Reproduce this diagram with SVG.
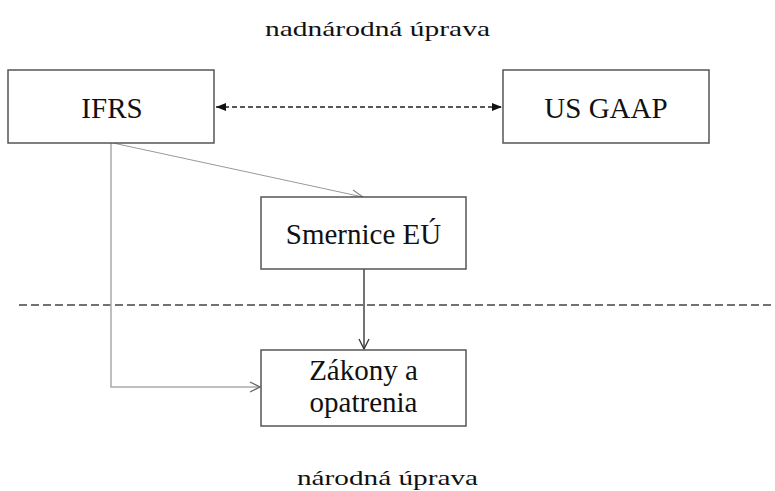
<svg xmlns="http://www.w3.org/2000/svg" width="775" height="491" viewBox="0 0 775 491">
<style>
.box{fill:#fff;stroke:#555;stroke-width:1.5}
.lbl{font-family:"Liberation Serif","Times New Roman",serif;font-size:29px;fill:#111;text-anchor:middle}
.ttl{font-family:"Liberation Serif","Times New Roman",serif;font-size:22px;fill:#111}
.c{fill:none}
</style>
<defs>
<marker id="fa" viewBox="0 0 10 10" refX="10" refY="5" markerWidth="10" markerHeight="10" markerUnits="userSpaceOnUse" orient="auto-start-reverse">
<path d="M0,1 L10,5 L0,9 Z" fill="#111"/>
</marker>
<marker id="oa" viewBox="0 0 12 12" refX="11" refY="6" markerWidth="12" markerHeight="12" markerUnits="userSpaceOnUse" orient="auto">
<path d="M1,1 L11,6 L1,11" fill="none" stroke="#666" stroke-width="1.2"/>
</marker>
<marker id="oad" viewBox="0 0 12 12" refX="11" refY="6" markerWidth="12" markerHeight="12" markerUnits="userSpaceOnUse" orient="auto">
<path d="M1,1 L11,6 L1,11" fill="none" stroke="#333" stroke-width="1.3"/>
</marker>
</defs>
<text class="ttl" x="265" y="36" textLength="225" lengthAdjust="spacingAndGlyphs">nadnárodná úprava</text>
<text class="ttl" x="297" y="485" textLength="181" lengthAdjust="spacingAndGlyphs">národná úprava</text>
<line x1="19" y1="305" x2="775" y2="305" stroke="#444" stroke-width="1.5" stroke-dasharray="8,4"/>
<g id="connectors">
<line class="c" x1="216" y1="107" x2="502" y2="107" stroke="#222" stroke-width="1.6" stroke-dasharray="5,3" marker-start="url(#fa)" marker-end="url(#fa)"/>
<line class="c" x1="113" y1="143" x2="363" y2="197" stroke="#999" stroke-width="1"/>
<path d="M353,190 L363,197 L351,197" fill="none" stroke="#888" stroke-width="1.1"/>
<path class="c" d="M111,143 V387 H260" stroke="#aaa" stroke-width="1.5" marker-end="url(#oa)"/>
<line class="c" x1="364" y1="269" x2="364" y2="349" stroke="#444" stroke-width="1.5" marker-end="url(#oad)"/>
</g>
<g id="ifrs">
<rect class="box" x="8" y="70" width="206" height="73"/>
<text class="lbl" x="112" y="118">IFRS</text>
</g>
<g id="usgaap">
<rect class="box" x="503" y="70" width="206" height="73"/>
<text class="lbl" x="606" y="118">US GAAP</text>
</g>
<g id="smernice">
<rect class="box" x="261" y="197" width="205" height="72"/>
<text class="lbl" x="363.5" y="244">Smernice EÚ</text>
</g>
<g id="zakony">
<rect class="box" x="261" y="350" width="205" height="76"/>
<text class="lbl" x="363.5" y="380">Zákony a</text>
<text class="lbl" x="363.5" y="412">opatrenia</text>
</g>
</svg>
